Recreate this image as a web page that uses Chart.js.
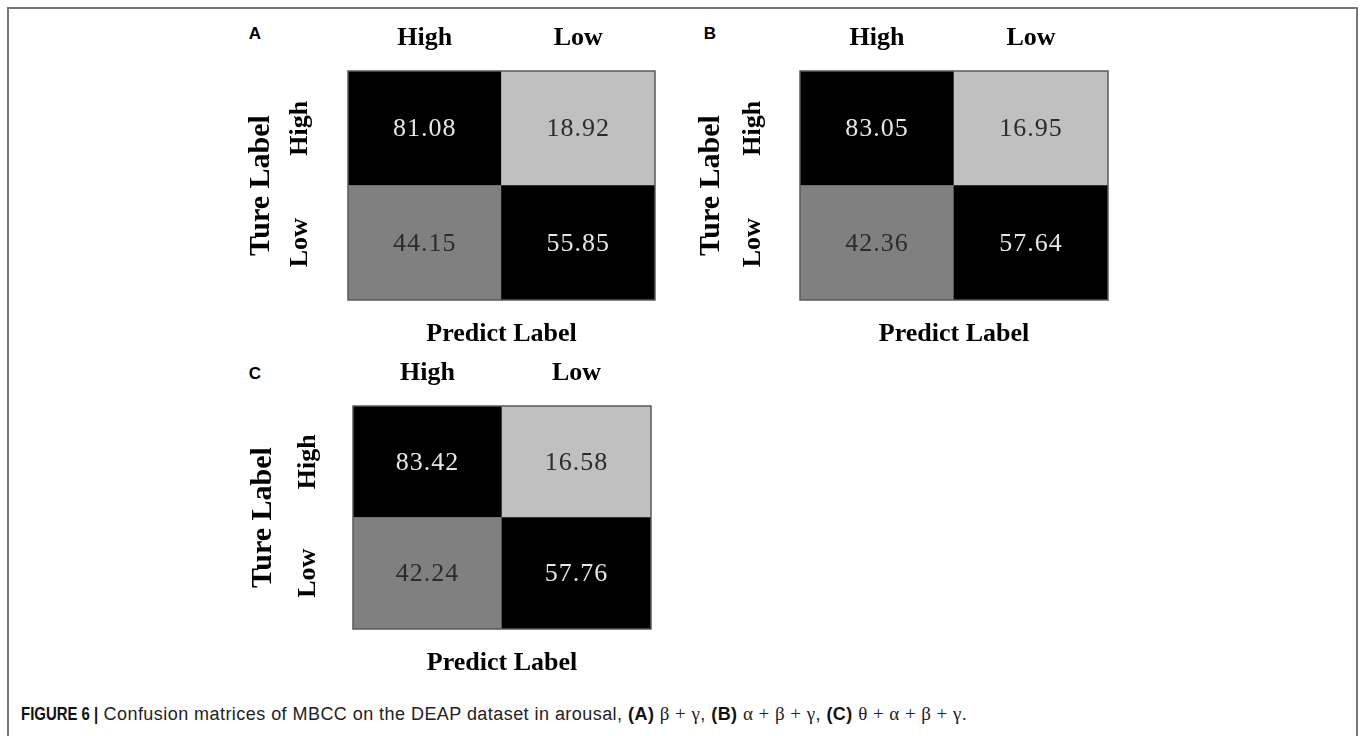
<!DOCTYPE html>
<html><head><meta charset="utf-8">
<script src="https://cdn.jsdelivr.net/npm/chart.js@4.4.0/dist/chart.umd.min.js"></script>
<style>
html,body{margin:0;padding:0;background:#fff;width:1360px;height:736px;overflow:hidden;}
#frame{position:absolute;left:7px;top:7px;width:1351px;height:760px;border:2px solid #777;border-bottom:none;box-sizing:border-box;}
.cv{position:absolute;}
.panel{position:absolute;font-family:"Liberation Sans",Arial,sans-serif;font-weight:bold;font-size:17px;color:#000;transform:translate(-50%,-50%);line-height:1;}
#caption{position:absolute;left:21px;top:703px;font-family:"Liberation Sans",Arial,sans-serif;font-size:18px;letter-spacing:0.45px;color:#222;white-space:nowrap;line-height:22px;}
#caption b{color:#111;}
#caption .fig{display:inline-block;letter-spacing:0;transform:scaleX(0.83);transform-origin:left center;margin-right:-16px;}
.gk{font-family:"Liberation Serif","DejaVu Serif",serif;font-size:19px;}
</style></head>
<body>
<div id="frame"></div>
<div class="panel" style="left:255px;top:33px">A</div>
<div class="panel" style="left:710px;top:33px">B</div>
<div class="panel" style="left:255px;top:373px">C</div>
<canvas id="cA" class="cv" style="left:236px;top:10px;width:422px;height:344px" width="422" height="344"></canvas>
<canvas id="cB" class="cv" style="left:686px;top:10px;width:425px;height:344px" width="425" height="344"></canvas>
<canvas id="cC" class="cv" style="left:238px;top:345px;width:416px;height:338px" width="416" height="338"></canvas>
<div id="caption"><b class="fig">FIGURE 6 |</b> Confusion matrices of MBCC on the DEAP dataset in arousal, <b>(A)</b> <span class="gk">β + γ</span>, <b>(B)</b> <span class="gk">α + β + γ</span>, <b>(C)</b> <span class="gk">θ + α + β + γ</span>.</div>
<script>
// ---- data ----
const predictLabels = ['High', 'Low'];
const trueLabels = ['High', 'Low'];
const panelA_highRow = [81.08, 18.92];
const panelA_lowRow = [44.15, 55.85];
const panelB_highRow = [83.05, 16.95];
const panelB_lowRow = [42.36, 57.64];
const panelC_highRow = [83.42, 16.58];
const panelC_lowRow = [42.24, 57.76];

// ---- styles ----
const highRowColors = ['#000000', '#c0c0c0'];
const lowRowColors = ['#808080', '#000000'];
const highRowText = ['#e6e6e6', '#2b2b2b'];
const lowRowText = ['#2b2b2b', '#e6e6e6'];
const serif = '"Liberation Serif", "Times New Roman", serif';

const cellLabels = {
  id: 'cellLabels',
  afterDatasetsDraw(chart) {
    const ctx = chart.ctx;
    ctx.save();
    ctx.font = '26px ' + serif;
    ctx.textAlign = 'center';
    ctx.textBaseline = 'middle';
    try { ctx.letterSpacing = '1px'; } catch (e) {}
    chart.data.datasets.forEach((ds, i) => {
      const meta = chart.getDatasetMeta(i);
      meta.data.forEach((el, j) => {
        ctx.fillStyle = ds.textColors[j];
        ctx.fillText(ds.cellValues[j].toFixed(2), el.x, (el.y + el.base) / 2 + 1);
      });
    });
    const a = chart.chartArea;
    ctx.strokeStyle = '#5a5a5a';
    ctx.lineWidth = 1.5;
    ctx.strokeRect(a.left, a.top, a.right - a.left, a.bottom - a.top);
    ctx.restore();
  }
};

function makeMatrix(id, highRow, lowRow, g) {
  return new Chart(document.getElementById(id), {
    type: 'bar',
    data: {
      labels: predictLabels,
      datasets: [
        { label: 'Low', data: lowRow.map(() => 1), cellValues: lowRow, textColors: lowRowText,
          backgroundColor: lowRowColors, borderWidth: 0, barPercentage: 1, categoryPercentage: 1 },
        { label: 'High', data: highRow.map(() => 1), cellValues: highRow, textColors: highRowText,
          backgroundColor: highRowColors, borderWidth: 0, barPercentage: 1, categoryPercentage: 1 }
      ]
    },
    options: {
      responsive: false,
      animation: false,
      layout: { padding: { top: 0, left: 0, right: 3, bottom: 0 } },
      plugins: { legend: { display: false }, tooltip: { enabled: false } },
      scales: {
        x: {
          position: 'top', stacked: true,
          grid: { display: false, drawTicks: false }, border: { display: false },
          ticks: { color: '#000', padding: 17, font: { family: serif, size: 26, weight: 'bold' } },
          afterFit: s => { s.height = g.topH; }
        },
        xb: {
          type: 'category', position: 'bottom', labels: predictLabels,
          grid: { display: false, drawTicks: false }, border: { display: false },
          ticks: { display: false },
          title: { display: true, text: 'Predict Label', color: '#000', padding: { top: 0, bottom: 4 },
                   font: { family: serif, size: 26, weight: 'bold' } },
          afterFit: s => { s.height = g.botH; }
        },
        y: {
          position: 'left', stacked: true, min: 0, max: 2,
          grid: { display: false, drawTicks: false }, border: { display: false },
          afterBuildTicks: s => { s.ticks = [{ value: 0.5 }, { value: 1.5 }]; },
          ticks: { color: '#000', padding: g.tickPad, minRotation: 90, maxRotation: 90, crossAlign: 'center',
                   font: { family: serif, size: 26, weight: 'bold' },
                   callback: v => trueLabels[v > 1 ? 0 : 1] },
          title: { display: true, text: 'Ture Label', color: '#000', padding: { top: 7, bottom: 0 },
                   font: { family: serif, size: 30, weight: 'bold' } },
          afterFit: s => { s.width = g.leftW; }
        }
      }
    },
    plugins: [cellLabels]
  });
}

makeMatrix('cA', panelA_highRow, panelA_lowRow, { topH: 61, botH: 54, leftW: 112, tickPad: 20.5 });
makeMatrix('cB', panelB_highRow, panelB_lowRow, { topH: 61, botH: 54, leftW: 114, tickPad: 19.5 });
makeMatrix('cC', panelC_highRow, panelC_lowRow, { topH: 61, botH: 54, leftW: 115, tickPad: 17.5 });
</script>
</body></html>
